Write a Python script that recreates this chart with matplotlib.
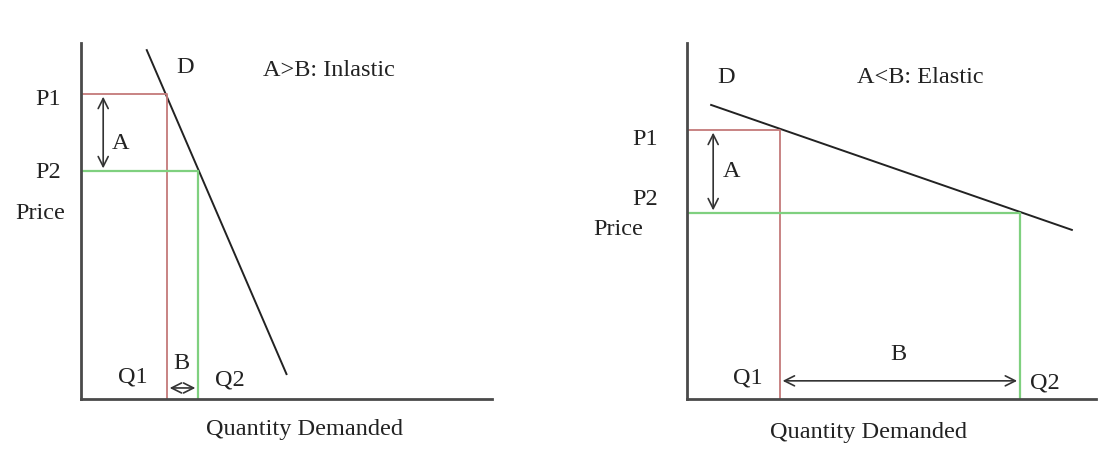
import matplotlib.pyplot as plt

plt.rcParams['font.family'] = 'Liberation Serif'

# left panel: inelastic demand
inel_demand_x = [16, 50]
inel_demand_y = [98, 7]
inel_q = [20.9, 28.5]      # Q1, Q2
inel_p = [85.7, 64.0]      # P1, P2
inel_title = "A>B: Inlastic"

# right panel: elastic demand
el_demand_x = [5.9, 94.1]
el_demand_y = [82.6, 47.5]
el_q = [22.7, 81.4]
el_p = [75.6, 52.2]
el_title = "A<B: Elastic"

RED = '#c47a7a'
GREEN = '#7fd07f'
AXIS = '#4a4a4a'
FS = 17.5

fig = plt.figure(figsize=(11.09, 4.53), dpi=100)
W, H = 1109, 453


def panel(left_px, width_px, dx, dy, q, p, title, lab):
    ax = fig.add_axes([left_px / W, (H - 399) / H, width_px / W, 356 / H])
    ax.set_xlim(0, 100)
    ax.set_ylim(0, 100)
    for s in ['top', 'right']:
        ax.spines[s].set_visible(False)
    for s in ['left', 'bottom']:
        ax.spines[s].set_color(AXIS)
        ax.spines[s].set_linewidth(2)
    ax.set_xticks([])
    ax.set_yticks([])

    ax.plot(dx, dy, color='#222222', lw=1.4, clip_on=False)
    # P1 / Q1 in red, P2 / Q2 in green
    ax.plot([0, q[0], q[0]], [p[0], p[0], 0], color=RED, lw=1.3)
    ax.plot([0, q[1], q[1]], [p[1], p[1], 0], color=GREEN, lw=1.6)

    arrow = dict(arrowstyle='<->', color='#333333', lw=1.2, mutation_scale=18)
    ax.annotate('', xy=(lab['ax'], p[1]), xytext=(lab['ax'], p[0]), arrowprops=arrow)
    ax.annotate('', xy=(q[1], lab['by']), xytext=(q[0], lab['by']), arrowprops=arrow)

    kw = dict(fontsize=FS, ha='center', va='center', color='#222222', clip_on=False)
    for txt, key in [('P1', 'p1'), ('P2', 'p2'), ('Price', 'price'), ('D', 'd'),
                     (title, 'title'), ('A', 'a'), ('B', 'b'), ('Q1', 'q1'),
                     ('Q2', 'q2'), ('Quantity Demanded', 'qd')]:
        x, y = lab[key]
        ax.text(x, y, txt, **kw)
    return ax


panel(81, 411, inel_demand_x, inel_demand_y, inel_q, inel_p, inel_title,
      {'p1': (-8, 84), 'p2': (-8, 63.5), 'price': (-10, 52.2), 'd': (25.3, 93),
       'title': (60.3, 92.4), 'a': (9.5, 71.9), 'b': (24.3, 10.1), 'q1': (12.7, 6.2),
       'q2': (36.3, 5.3), 'qd': (54.5, -8.7), 'ax': 5.4, 'by': 3.1})

panel(687, 409, el_demand_x, el_demand_y, el_q, el_p, el_title,
      {'p1': (-10.3, 72.8), 'p2': (-10.3, 55.9), 'price': (-16.9, 47.5), 'd': (9.5, 90.4),
       'title': (57, 90.4), 'a': (11, 63.8), 'b': (51.6, 12.4), 'q1': (14.9, 5.9),
       'q2': (87.5, 4.5), 'qd': (44.3, -9.3), 'ax': 6.4, 'by': 5.1})

fig.savefig('out.png', dpi=100)
